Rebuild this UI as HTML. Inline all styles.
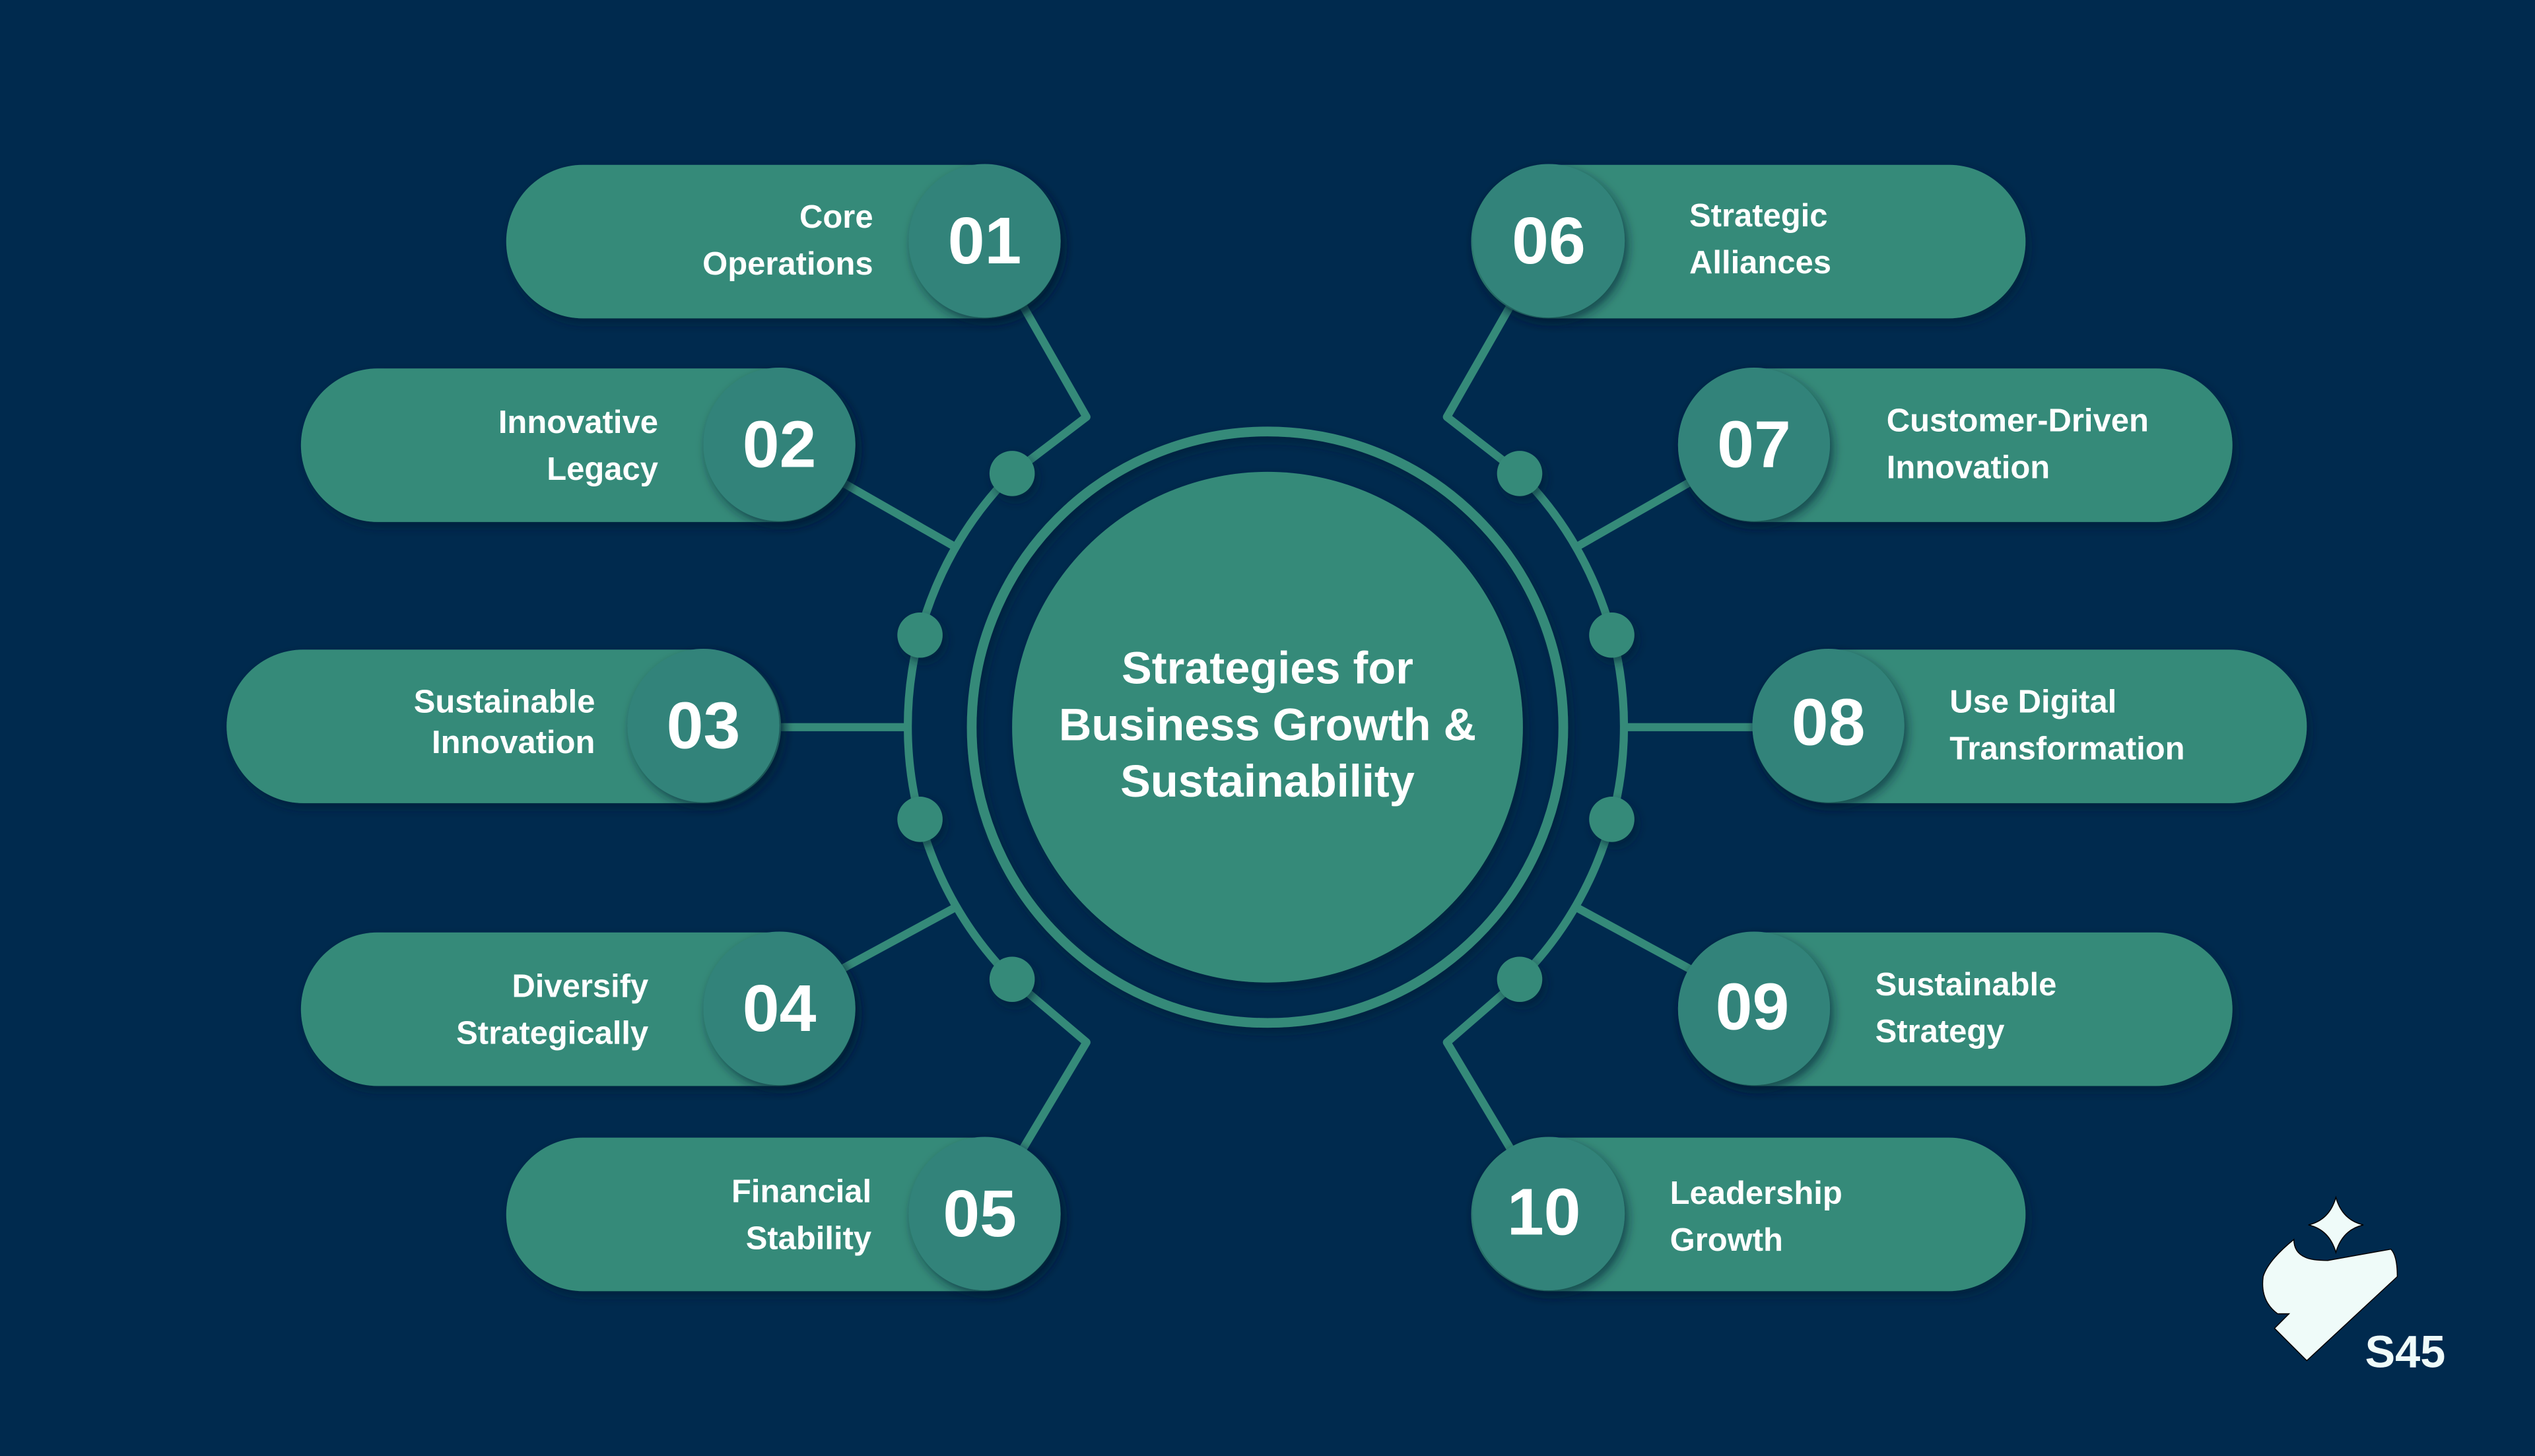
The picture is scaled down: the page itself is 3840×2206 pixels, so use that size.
<!DOCTYPE html>
<html><head><meta charset="utf-8"><style>
html,body{margin:0;padding:0;background:#002a4e;}
svg{display:block}
text{font-family:"Liberation Sans",Arial,sans-serif;font-weight:bold;fill:#fff}
</style></head><body>
<svg width="3840" height="2206" viewBox="0 0 1568 901" xmlns="http://www.w3.org/2000/svg">
<defs>
<filter id="sh" x="-30%" y="-30%" width="160%" height="160%"><feDropShadow dx="2" dy="3" stdDeviation="3" flood-color="#001a30" flood-opacity="0.6"/></filter>
</defs>
<rect width="1568" height="901" fill="#002a4e"/>
<g stroke="#358a79" stroke-width="5" fill="none" stroke-linejoin="round">
<!-- left arc -->
<path d="M626,293 A222,222 0 0 0 626,606"/>
<path d="M940,293 A222,222 0 0 1 940,606"/>
<polyline points="632,188 672,258 626,293"/>
<polyline points="632,712 672,645 626,606"/>
<polyline points="935,188 895,258 940,293"/>
<polyline points="935,712 895,645 940,606"/>
<line x1="520" y1="298" x2="590" y2="338"/>
<line x1="483" y1="450" x2="562" y2="450"/>
<line x1="520" y1="600" x2="590" y2="562"/>
<line x1="1046" y1="298" x2="976" y2="338"/>
<line x1="1085" y1="450" x2="1006" y2="450"/>
<line x1="1046" y1="600" x2="976" y2="562"/>
<circle cx="784" cy="450" r="183" stroke-width="6" filter="url(#sh)"/>
</g>
<g fill="#358a79" filter="url(#sh)">
<circle cx="626" cy="293" r="14"/><circle cx="569" cy="393" r="14"/><circle cx="569" cy="507" r="14"/><circle cx="626" cy="606" r="14"/>
<circle cx="940" cy="293" r="14"/><circle cx="997" cy="393" r="14"/><circle cx="997" cy="507" r="14"/><circle cx="940" cy="606" r="14"/>
<circle cx="784" cy="450" r="158"/>
</g>
<text x="784" y="423" font-size="28" text-anchor="middle">Strategies for</text>
<text x="784" y="458" font-size="28" text-anchor="middle">Business Growth &amp;</text>
<text x="784" y="493" font-size="28" text-anchor="middle">Sustainability</text>

<!-- pills -->
<g filter="url(#sh)" fill="#358a79">
<rect x="313" y="102" width="343" height="95" rx="47.5"/>
<rect x="186" y="228" width="343" height="95" rx="47.5"/>
<rect x="140" y="402" width="343" height="95" rx="47.5"/>
<rect x="186" y="577" width="343" height="95" rx="47.5"/>
<rect x="313" y="704" width="343" height="95" rx="47.5"/>
<rect x="910" y="102" width="343" height="95" rx="47.5"/>
<rect x="1038" y="228" width="343" height="95" rx="47.5"/>
<rect x="1084" y="402" width="343" height="95" rx="47.5"/>
<rect x="1038" y="577" width="343" height="95" rx="47.5"/>
<rect x="910" y="704" width="343" height="95" rx="47.5"/>
</g>
<g fill="#30837a" filter="url(#sh)">
<ellipse cx="609" cy="149" rx="47" ry="47.5"/>
<ellipse cx="482" cy="275" rx="47" ry="47.5"/>
<ellipse cx="435" cy="449" rx="47" ry="47.5"/>
<ellipse cx="482" cy="624" rx="47" ry="47.5"/>
<ellipse cx="609" cy="751" rx="47" ry="47.5"/>
<ellipse cx="958" cy="149" rx="47" ry="47.5"/>
<ellipse cx="1085" cy="275" rx="47" ry="47.5"/>
<ellipse cx="1131" cy="449" rx="47" ry="47.5"/>
<ellipse cx="1085" cy="624" rx="47" ry="47.5"/>
<ellipse cx="958" cy="751" rx="47" ry="47.5"/>
</g>
<g font-size="41" text-anchor="middle">
<text x="609" y="163">01</text>
<text x="482" y="289">02</text>
<text x="435" y="463">03</text>
<text x="482" y="638">04</text>
<text x="606" y="765">05</text>
<text x="958" y="163">06</text>
<text x="1085" y="289">07</text>
<text x="1131" y="461">08</text>
<text x="1084" y="637">09</text>
<text x="955" y="764">10</text>
</g>
<g font-size="20" text-anchor="end">
<text x="540" y="141">Core</text><text x="540" y="170">Operations</text>
<text x="407" y="268">Innovative</text><text x="407" y="297">Legacy</text>
<text x="368" y="441">Sustainable</text><text x="368" y="466">Innovation</text>
<text x="401" y="617">Diversify</text><text x="401" y="646">Strategically</text>
<text x="539" y="744">Financial</text><text x="539" y="773">Stability</text>
</g>
<g font-size="20">
<text x="1045" y="140">Strategic</text><text x="1045" y="169">Alliances</text>
<text x="1167" y="267">Customer-Driven</text><text x="1167" y="296">Innovation</text>
<text x="1206" y="441">Use Digital</text><text x="1206" y="470">Transformation</text>
<text x="1160" y="616">Sustainable</text><text x="1160" y="645">Strategy</text>
<text x="1033" y="745">Leadership</text><text x="1033" y="774">Growth</text>
</g>
<!-- logo -->
<g fill="#effbf9" stroke="#000" stroke-width="0.6">
<path d="M1445,741 Q1449,755 1462,758 Q1449,761 1445,775 Q1441,761 1428,758 Q1441,755 1445,741Z"/>
<path d="M1479,773 Q1483,777 1483,790 L1427,842 L1407,822 L1416,813 L1409,813 Q1398,805 1400,790 Q1403,780 1419,767 Q1419,775 1426,778 Q1430,780 1440,780 Z"/>
</g>
<text x="1463" y="846" font-size="28" fill="#effbf9" style="fill:#effbf9">S45</text>
</svg>
</body></html>
